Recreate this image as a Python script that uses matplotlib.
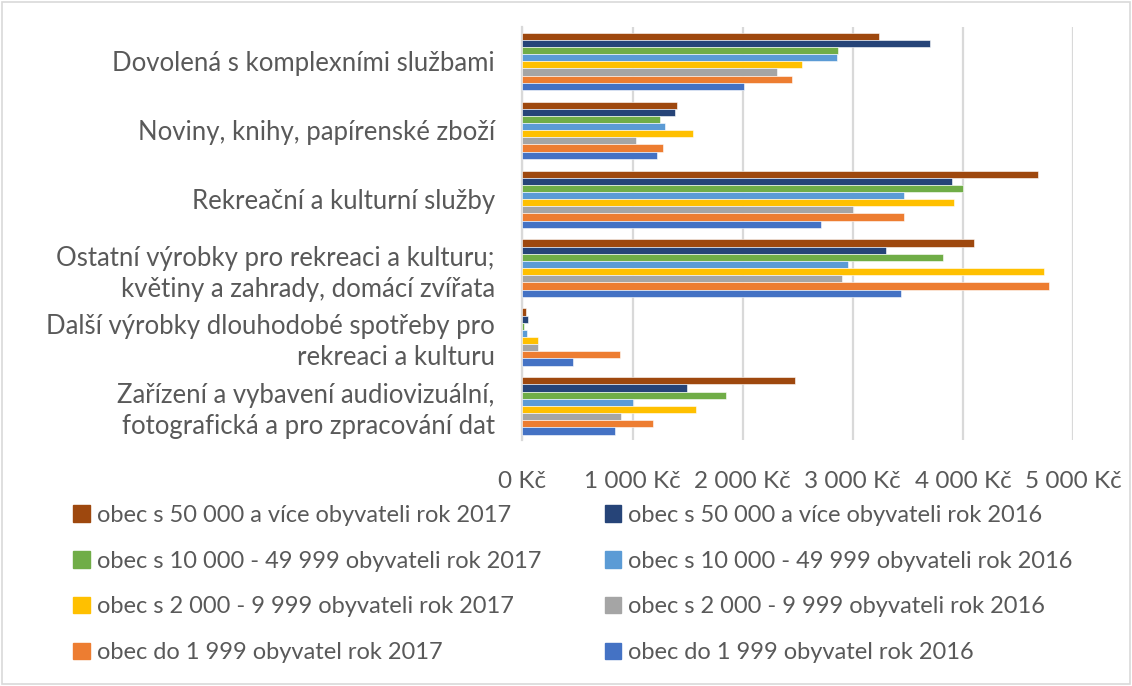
import numpy as np
import matplotlib.pyplot as plt
from matplotlib.patches import Rectangle, Patch
from matplotlib.ticker import FuncFormatter, MultipleLocator

plt.rcParams['font.family'] = ['Lato', 'DejaVu Sans']

categories = [
    'Dovolená s komplexními službami',
    'Noviny, knihy, papírenské zboží',
    'Rekreační a kulturní služby',
    'Ostatní výrobky pro rekreaci a kulturu;\nkvětiny a zahrady, domácí zvířata',
    'Další výrobky dlouhodobé spotřeby pro\nrekreaci a kulturu',
    'Zařízení a vybavení audiovizuální,\nfotografická a pro zpracování dat',
]

series_names = [
    'obec s 50 000 a více obyvateli rok 2017',
    'obec s 50 000 a více obyvateli rok 2016',
    'obec s 10 000 - 49 999 obyvateli rok 2017',
    'obec s 10 000 - 49 999 obyvateli rok 2016',
    'obec s 2 000 - 9 999 obyvateli rok 2017',
    'obec s 2 000 - 9 999 obyvateli rok 2016',
    'obec do 1 999 obyvatel rok 2017',
    'obec do 1 999 obyvatel rok 2016',
]

# values per series, in category order (Kč)
big_2017 = [3235, 1405, 4683, 4096, 34, 2476]
big_2016 = [3698, 1387, 3903, 3303, 49, 1491]
mid_2017 = [2863, 1250, 4000, 3821, 15, 1849]
mid_2016 = [2854, 1292, 3466, 2960, 46, 1000]
small_2017 = [2536, 1553, 3922, 4739, 143, 1572]
small_2016 = [2310, 1028, 3000, 2903, 143, 892]
tiny_2017 = [2445, 1277, 3466, 4780, 887, 1190]
tiny_2016 = [2010, 1222, 2713, 3440, 460, 837]

series_values = [big_2017, big_2016, mid_2017, mid_2016,
                 small_2017, small_2016, tiny_2017, tiny_2016]
colors = ['#9E480E', '#264478', '#70AD47', '#5B9BD5',
          '#FFC000', '#A5A5A5', '#ED7D31', '#4472C4']
text_color = '#595959'

fig = plt.figure(figsize=(11.32, 6.86), dpi=100)
ax = fig.add_axes([0.4615, 0.358, 0.4865, 0.603])

y = np.arange(len(categories))
h = 0.83 / len(series_values)
for i, (vals, col) in enumerate(zip(series_values, colors)):
    ax.barh(y + (i - 3.5) * h, vals, height=h, color=col,
            edgecolor='white', linewidth=0.4, zorder=3)

ax.set_xlim(0, 5000)
ax.set_ylim(len(categories) - 0.5, -0.5)
ax.xaxis.set_major_locator(MultipleLocator(1000))
ax.xaxis.set_major_formatter(FuncFormatter(
    lambda v, p: f"{int(v):,}".replace(',', '\u00a0') + '\u00a0Kč'))
ax.grid(axis='x', color='#d9d9d9', linewidth=1.6, zorder=0)
ax.tick_params(axis='x', length=0, pad=22, labelsize=17.5, labelcolor=text_color)
ax.set_yticks(y)
ax.set_yticklabels(categories, fontsize=18.5, color=text_color, linespacing=1.3)
ax.tick_params(axis='y', length=0, pad=20)
for s in ['top', 'right', 'bottom']:
    ax.spines[s].set_visible(False)
ax.spines['left'].set_color('#d9d9d9')
ax.spines['left'].set_linewidth(1.6)

# legend: left column 2017, right column 2016
order = [0, 2, 4, 6, 1, 3, 5, 7]
handles = [Patch(color=colors[k]) for k in order]
labels = [series_names[k] for k in order]
fig.legend(handles, labels, ncol=2, loc='upper left',
           bbox_to_anchor=(0.0645, 0.264), frameon=False, fontsize=17,
           handlelength=0.7, handleheight=0.7, handletextpad=0.3,
           columnspacing=2.7, labelspacing=1.05, labelcolor=text_color,
           borderpad=0, borderaxespad=0)

fig.patches.append(Rectangle((0.002, 0.003), 0.996, 0.994, transform=fig.transFigure,
                             fill=False, edgecolor='#d9d9d9', linewidth=1.2))

fig.savefig('out.png', dpi=100)
